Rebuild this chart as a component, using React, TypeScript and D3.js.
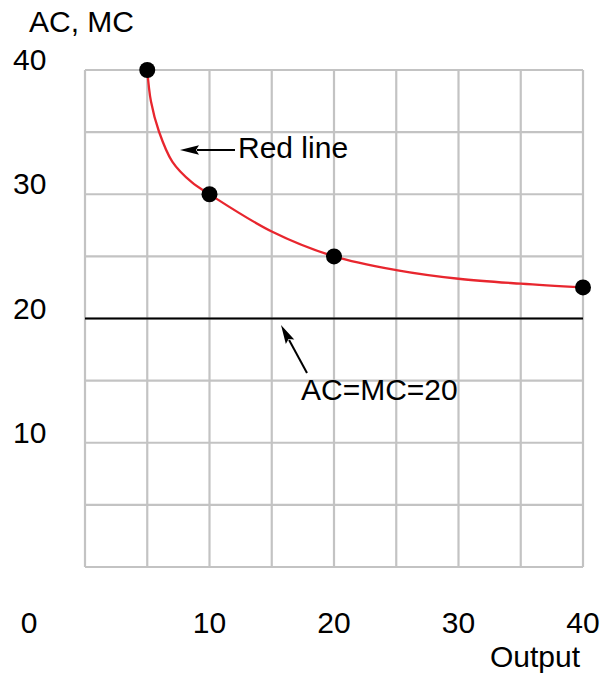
import React from "react";
import * as d3 from "d3";

const gridSteps = [0, 5, 10, 15, 20, 25, 30, 35, 40];
const yTickValues = [40, 30, 20, 10];
const xTickValues = [10, 20, 30, 40];
const originLabel = "0";
const pointQ = [5, 10, 20, 40];
const pointAC = [40, 30, 25, 22.5];
const curveQ = [5, 5.3, 5.94, 7.01, 8.57, 10, 15, 20, 25, 30, 35, 40];
const curveAC = [40, 37.46, 35.05, 32.63, 30.97, 30, 27.0, 25, 23.9, 23.2, 22.8, 22.5];
const flatLevel = 20;
const yTitle = "AC, MC";
const xTitle = "Output";
const redLabel = "Red line";
const flatLabel = "AC=MC=20";

const W = 600;
const H = 677;
const FONT = "'Liberation Sans', Arial, sans-serif";

function Arrow({ x1, y1, x2, y2 }: { x1: number; y1: number; x2: number; y2: number }) {
  const dx = x2 - x1;
  const dy = y2 - y1;
  const len = Math.hypot(dx, dy);
  const ux = dx / len;
  const uy = dy / len;
  const hl = 19;
  const hw = 4.8;
  const bx = x2 - ux * hl;
  const by = y2 - uy * hl;
  const px = -uy;
  const py = ux;
  return (
    <g>
      <line x1={x1} y1={y1} x2={bx + ux * 2} y2={by + uy * 2} stroke="#000" strokeWidth={2} />
      <path
        d={`M${x2},${y2} L${bx + px * hw},${by + py * hw} L${bx + ux * 3},${by + uy * 3} L${bx - px * hw},${by - py * hw} Z`}
        fill="#000"
      />
    </g>
  );
}

export default function App() {
  const x = d3.scaleLinear().domain([0, 40]).range([85, 583]);
  const y = d3.scaleLinear().domain([0, 40]).range([567, 70]);
  const line = d3
    .line<number>()
    .x((d) => x(curveQ[d]))
    .y((d) => y(curveAC[d]))
    .curve(d3.curveCatmullRom.alpha(0.5));
  const curvePath = line(curveQ.map((_, i) => i)) || "";
  const grid = "#c3c3c3";
  const fs = 30;

  return (
    <svg
      width={W}
      height={H}
      style={{ position: "absolute", left: 0, top: 0, background: "#fff" }}
      fontFamily={FONT}
    >
      {gridSteps.map((v) => (
        <line key={"v" + v} x1={x(v)} x2={x(v)} y1={y(0)} y2={y(40)} stroke={grid} strokeWidth={2.2} />
      ))}
      {gridSteps.map((v) => (
        <line key={"h" + v} x1={x(0)} x2={x(40)} y1={y(v)} y2={y(v)} stroke={grid} strokeWidth={2.2} />
      ))}
      <line x1={x(0)} x2={x(40)} y1={y(flatLevel)} y2={y(flatLevel)} stroke="#000" strokeWidth={2} />
      <path d={curvePath} fill="none" stroke="#e8262e" strokeWidth={2.3} />
      {pointQ.map((q, i) => (
        <circle key={q} cx={x(q)} cy={y(pointAC[i])} r={8} fill="#000" />
      ))}
      {yTickValues.map((v) => (
        <text key={"yt" + v} x={13} y={y(v)} fontSize={fs} fill="#000">
          {v}
        </text>
      ))}
      {xTickValues.map((v) => (
        <text key={"xt" + v} x={x(v)} y={633} fontSize={fs} textAnchor="middle" fill="#000">
          {v}
        </text>
      ))}
      <text x={29} y={633} fontSize={fs} textAnchor="middle" fill="#000">
        {originLabel}
      </text>
      <text x={29} y={32} fontSize={fs} fill="#000">
        {yTitle}
      </text>
      <text x={580} y={667} fontSize={fs} textAnchor="end" fill="#000">
        {xTitle}
      </text>
      <Arrow x1={235} y1={150} x2={180} y2={150} />
      <text x={238} y={158} fontSize={fs} fill="#000">
        {redLabel}
      </text>
      <Arrow x1={307} y1={373} x2={281} y2={325} />
      <text x={301} y={400} fontSize={fs} fill="#000">
        {flatLabel}
      </text>
    </svg>
  );
}
